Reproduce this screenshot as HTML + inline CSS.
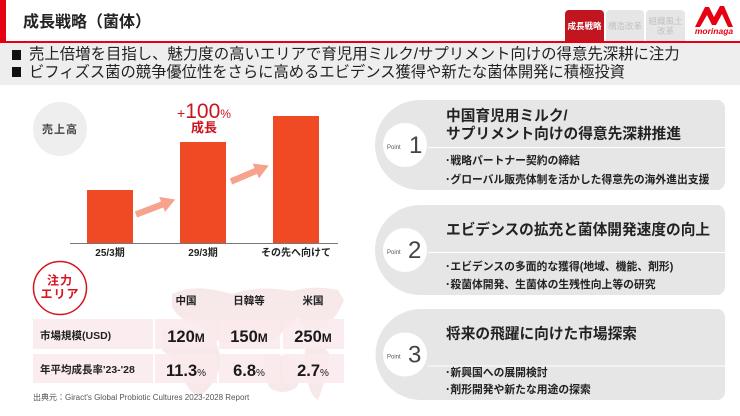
<!DOCTYPE html>
<html><head><meta charset="utf-8">
<style>
*{margin:0;padding:0;box-sizing:border-box}
html,body{width:740px;height:416px;overflow:hidden;background:#fff}
body{position:relative;font-family:"Liberation Sans","Noto Sans CJK JP",sans-serif;color:#222}
.a{position:absolute;white-space:nowrap}
.tab{position:absolute;top:10px;height:31px;border-radius:4px 4px 0 0;display:flex;align-items:center;justify-content:center;text-align:center;font-size:8.5px;line-height:10px}
svg text{font-family:"Liberation Sans","Noto Sans CJK JP",sans-serif}
</style></head><body>

<!-- header -->
<div class="a" style="left:0;top:0;width:6px;height:42px;background:#e60012"></div>
<div class="a" style="left:0;top:41px;width:740px;height:2px;background:#e60012"></div>
<div class="a" style="left:23px;top:12px;font-size:16px;line-height:21px;font-weight:bold;color:#222">成長戦略（菌体）</div>

<div class="tab" style="left:565px;width:39px;background:#c1161f;color:#fff;font-weight:bold">成長戦略</div>
<div class="tab" style="left:606px;width:38px;background:#e6e6e6;color:#c2c2c2">構造改革</div>
<div class="tab" style="left:646px;width:39px;background:#e6e6e6;color:#c2c2c2">組織風土<br>改革</div>

<!-- band -->
<div class="a" style="left:0;top:43px;width:740px;height:42px;background:#eeeeee"></div>
<div class="a" style="left:12px;top:50px;width:9px;height:10px;background:#111"></div>
<div class="a" style="left:12px;top:67px;width:9px;height:10px;background:#111"></div>
<div class="a" style="left:29px;top:46px;font-size:15.4px;line-height:18px;color:#222">売上倍増を目指し、魅力度の高いエリアで育児用ミルク/サプリメント向けの得意先深耕に注力</div>
<div class="a" style="left:29px;top:63.5px;font-size:15.3px;line-height:18px;color:#222">ビフィズス菌の競争優位性をさらに高めるエビデンス獲得や新たな菌体開発に積極投資</div>

<svg class="a" style="left:0;top:0" width="740" height="416" viewBox="0 0 740 416">
  <!-- logo -->
  <polygon points="695,27 705,7 709,7 714,17 720,6 724,6 733,27 728,27 722,14 716,25 712,25 707,15 700,27" fill="#e60012"/>
  <text x="714" y="34" text-anchor="middle" font-size="8.5" font-weight="bold" font-style="italic" fill="#e60012">morinaga</text>

  <!-- sales circle -->
  <circle cx="60" cy="129" r="27" fill="#eeeeee"/>
  <text x="60" y="133" text-anchor="middle" font-size="11" font-weight="bold" fill="#444" letter-spacing="1">売上高</text>

  <!-- bars -->
  <rect x="87" y="190" width="46" height="53" fill="#ef4a24"/>
  <rect x="180" y="142" width="46" height="101" fill="#ef4a24"/>
  <rect x="273" y="116" width="46" height="127" fill="#ef4a24"/>
  <line x1="70" y1="243.5" x2="338" y2="243.5" stroke="#777" stroke-width="1"/>
  <text x="110" y="256" text-anchor="middle" font-size="10" font-weight="bold" fill="#222">25/3期</text>
  <text x="203" y="256" text-anchor="middle" font-size="10" font-weight="bold" fill="#222">29/3期</text>
  <text x="296" y="256" text-anchor="middle" font-size="10" font-weight="bold" fill="#222">その先へ向けて</text>

  <!-- arrows -->
  <g transform="translate(136,214.5) rotate(-21)">
    <polygon points="0,-3.2 28,-3.2 28,-8 42,0 28,8 28,3.2 0,3.2" fill="#f7a28c"/>
  </g>
  <g transform="translate(231,181.5) rotate(-23)">
    <polygon points="0,-3.2 27,-3.2 27,-8 41,0 27,8 27,3.2 0,3.2" fill="#f7a28c"/>
  </g>

  <!-- +100% -->
  <text x="204" y="118" text-anchor="middle" fill="#c9151e"><tspan font-size="14">+</tspan><tspan font-size="21">100</tspan><tspan font-size="12">%</tspan></text>
  <text x="204" y="132" text-anchor="middle" font-size="13" font-weight="bold" fill="#c9151e">成長</text>

  <!-- map (faint) -->
  <g fill="#f7e8ea">
    <path d="M172,294 Q190,285 215,290 L232,294 Q260,284 296,292 L298,318 Q285,330 270,343 Q255,348 240,338 Q228,346 220,342 Q205,330 190,322 Q177,318 172,306 Z"/>
    <path d="M162,330 Q185,324 212,336 Q222,350 220,368 Q212,388 200,396 Q190,394 183,378 Q175,360 162,350 Z"/>
    <path d="M264,356 Q283,352 296,362 Q305,375 296,388 Q282,396 270,388 Q262,375 264,356 Z"/>
    <path d="M287,293 Q310,284 338,290 L344,300 Q338,316 324,328 Q310,332 302,324 Q292,310 287,293 Z"/>
    <path d="M306,346 Q323,342 330,355 Q327,378 318,400 Q310,396 307,378 Q302,362 306,346 Z"/>
  </g>

  <!-- focus circle -->
  <circle cx="60" cy="288" r="26.5" fill="#fff" stroke="#d7141e" stroke-width="1.5"/>
  <text x="60" y="284.5" text-anchor="middle" font-size="12" font-weight="bold" fill="#d7141e" letter-spacing="1">注力</text>
  <text x="60" y="298" text-anchor="middle" font-size="12" font-weight="bold" fill="#d7141e" letter-spacing="1">エリア</text>

  <!-- column headers -->
  <text x="186" y="304" text-anchor="middle" font-size="10.5" font-weight="bold" fill="#222">中国</text>
  <text x="249" y="304" text-anchor="middle" font-size="10.5" font-weight="bold" fill="#222">日韓等</text>
  <text x="313" y="304" text-anchor="middle" font-size="10.5" font-weight="bold" fill="#222">米国</text>

  <!-- table cells -->
  <g fill="rgba(250,234,236,0.85)">
    <rect x="33" y="319" width="120" height="30"/>
    <rect x="155" y="319" width="62" height="30"/>
    <rect x="219" y="319" width="61" height="30"/>
    <rect x="283" y="319" width="61" height="30"/>
    <rect x="33" y="354" width="120" height="29"/>
    <rect x="155" y="354" width="62" height="29"/>
    <rect x="219" y="354" width="61" height="29"/>
    <rect x="283" y="354" width="61" height="29"/>
  </g>
  <text x="40" y="339" font-size="10.5" font-weight="bold" fill="#222">市場規模(USD)</text>
  <text x="40" y="373" font-size="10.5" font-weight="bold" fill="#222">年平均成長率'23-'28</text>

  <g font-weight="bold" fill="#1a1a1a" text-anchor="middle">
    <text x="186" y="342"><tspan font-size="16.5">120</tspan><tspan font-size="12">M</tspan></text>
    <text x="249" y="342"><tspan font-size="16.5">150</tspan><tspan font-size="12">M</tspan></text>
    <text x="313" y="342"><tspan font-size="16.5">250</tspan><tspan font-size="12">M</tspan></text>
    <text x="186" y="376"><tspan font-size="16.5">11.3</tspan><tspan font-size="10" font-weight="normal">%</tspan></text>
    <text x="249" y="376"><tspan font-size="16.5">6.8</tspan><tspan font-size="10" font-weight="normal">%</tspan></text>
    <text x="313" y="376"><tspan font-size="16.5">2.7</tspan><tspan font-size="10" font-weight="normal">%</tspan></text>
  </g>

  <text x="33" y="400" font-size="8" fill="#555">出典元：Giract's Global Probiotic Cultures 2023-2028 Report</text>

  <!-- cards -->
  <g fill="#e6e6e6">
    <path d="M420,100 H717 A8,8 0 0 1 725,108 V182 A8,8 0 0 1 717,190 H420 A45,45 0 0 1 420,100 Z"/>
    <path d="M420,205 H717 A8,8 0 0 1 725,213 V287 A8,8 0 0 1 717,295 H420 A45,45 0 0 1 420,205 Z"/>
    <path d="M421,309 H717 A8,8 0 0 1 725,317 V392 A8,8 0 0 1 717,400 H421 A45.5,45.5 0 0 1 421,309 Z"/>
  </g>
  <g fill="#fff">
    <circle cx="405" cy="145" r="22"/>
    <circle cx="405" cy="250" r="22"/>
    <circle cx="405" cy="354.5" r="22"/>
    <rect x="428" y="147" width="297" height="1"/>
    <rect x="428" y="252" width="297" height="1"/>
    <rect x="428" y="365.5" width="297" height="1"/>
  </g>

  <g fill="#444">
    <text x="387" y="149" font-size="6" fill="#555">Point</text>
    <text x="409" y="153" font-size="24">1</text>
    <text x="387" y="254" font-size="6" fill="#555">Point</text>
    <text x="408" y="258" font-size="24">2</text>
    <text x="387" y="358.5" font-size="6" fill="#555">Point</text>
    <text x="408" y="362.5" font-size="24">3</text>
  </g>

  <g font-size="14.7" font-weight="bold" fill="#222">
    <text x="446" y="120.4">中国育児用ミルク/</text>
    <text x="446" y="138.4">サプリメント向けの得意先深耕推進</text>
    <text x="446" y="234.4">エビデンスの拡充と菌体開発速度の向上</text>
    <text x="446" y="338.4">将来の飛躍に向けた市場探索</text>
  </g>
  <g font-size="10.8" font-weight="bold" fill="#222">
    <text x="445" y="164">･戦略パートナー契約の締結</text>
    <text x="445" y="183">･グローバル販売体制を活かした得意先の海外進出支援</text>
    <text x="445" y="270">･エビデンスの多面的な獲得(地域、機能、剤形)</text>
    <text x="445" y="288">･殺菌体開発、生菌体の生残性向上等の研究</text>
    <text x="445" y="376">･新興国への展開検討</text>
    <text x="445" y="393">･剤形開発や新たな用途の探索</text>
  </g>
</svg>
</body></html>
